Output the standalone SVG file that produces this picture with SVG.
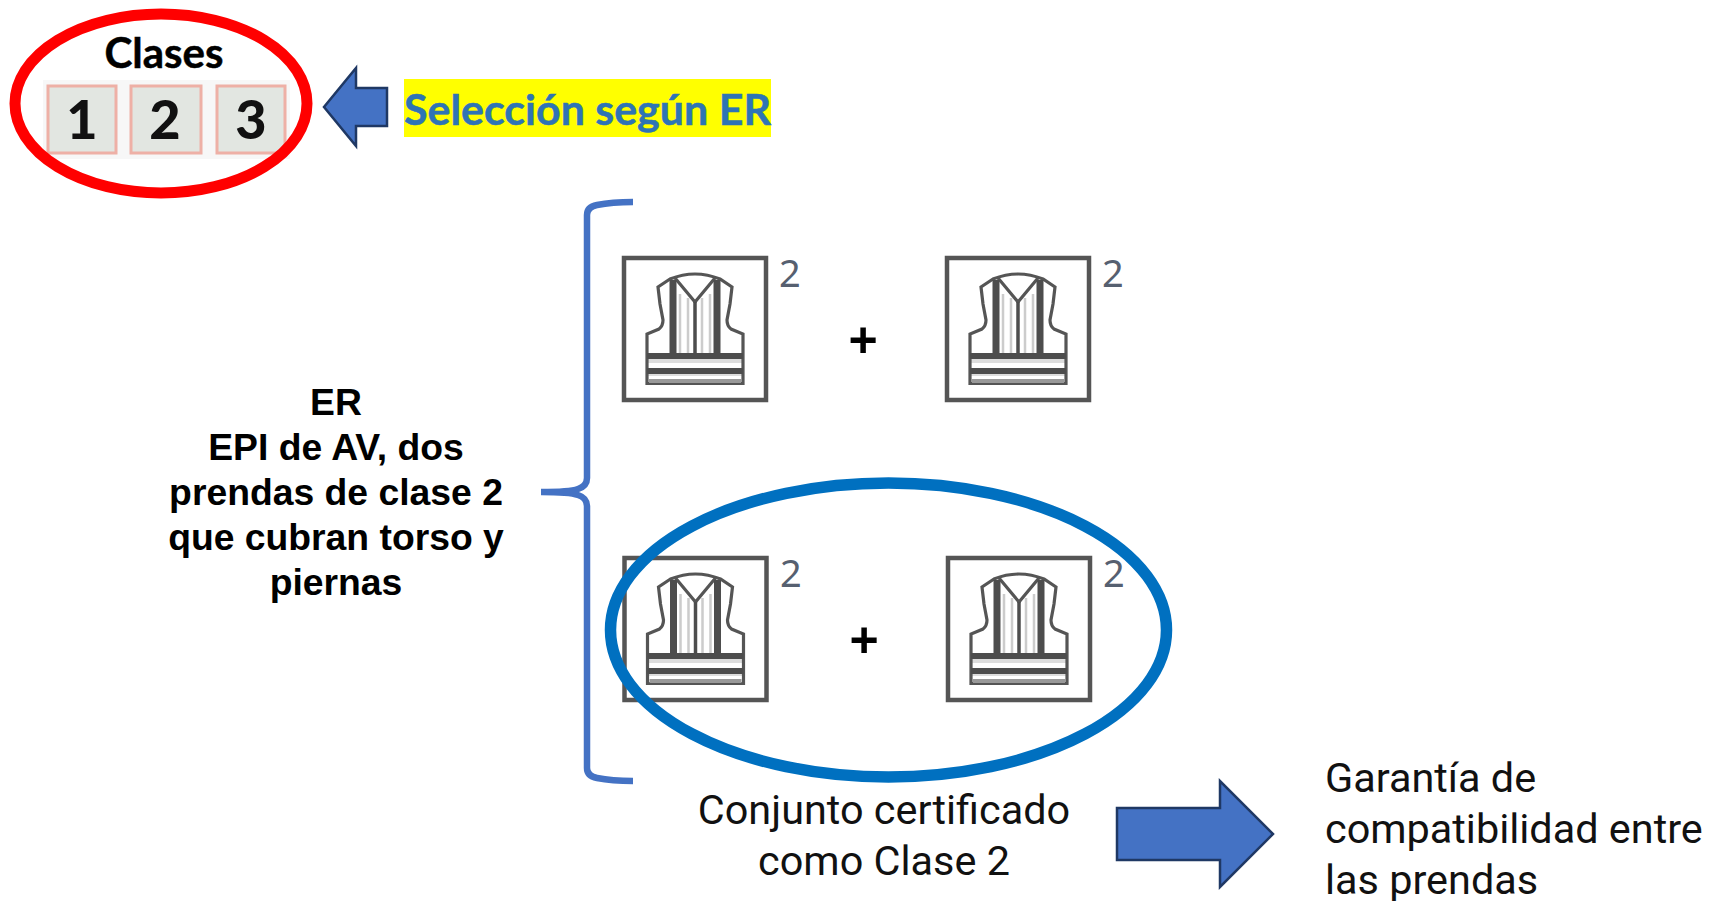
<svg xmlns="http://www.w3.org/2000/svg" width="1710" height="901" viewBox="0 0 1710 901">
<style>
.h{font-family:"Liberation Sans",Arial,sans-serif;font-weight:700;font-size:37.300px;fill:#000;text-anchor:middle}
.b{font-family:Roboto,"Noto Sans",sans-serif;font-size:41.400px;fill:#111}
.c{font-family:"Noto Sans","Open Sans",sans-serif;font-size:38px;font-weight:400;fill:#566070}
.arrow{fill:#4472C4;stroke:#1F3864;stroke-width:2.500}
.box{fill:#fff;stroke:#555;stroke-width:4.500}
.l{fill:none;stroke:#555;stroke-width:3.200}
.s{fill:none;stroke:#4d4d4d;stroke-width:7}
.t{fill:#e2e6e1;stroke:#eeb0a6;stroke-width:3}
.n{font-family:"Lato","Liberation Sans",sans-serif;font-weight:900;font-size:54px;fill:#111;text-anchor:middle}
</style>
<defs>
<g id="vest">
<rect class="box" x="2" y="2" width="142" height="142"/>
<path d="M58 38V98M66 42V98M80 42V98M88 38V98" fill="none" stroke="#ccc" stroke-width="2.500"/>
<rect x="26" y="103" width="94" height="4" fill="#ddd"/>
<rect x="26" y="118" width="94" height="2" fill="#ddd"/>
<path class="l" d="M48 23 L36 31 L38 48 L41 64 Q41 70 37 73 L25 78 V127.500 H121 V78 L109 73 Q105 70 105 64 L108 48 L110 31 L98 23 Q73 13 48 23Z"/>
<path class="l" d="M53 22 L73 46 L93 22"/>
<path class="s" d="M51 24V98M95 24V98"/>
<path d="M73 46V98" fill="none" stroke="#4d4d4d" stroke-width="3.500"/>
<rect x="25" y="97" width="96" height="6" fill="#4d4d4d"/>
<rect x="25" y="112" width="96" height="6" fill="#4d4d4d"/>
<rect x="27" y="123" width="92" height="4" fill="#999"/>
</g>
</defs>
<rect width="1710" height="901" fill="#fff"/>

<g id="clases">
<rect x="43" y="80" width="247" height="79" fill="#f7f7f7"/>
<rect class="t" x="48" y="86" width="68" height="67"/>
<rect class="t" x="131" y="86" width="70" height="67"/>
<rect class="t" x="217" y="86" width="68" height="67"/>
<text class="n" x="82" y="139">1</text>
<text class="n" x="165" y="139">2</text>
<text class="n" x="251" y="139">3</text>
<text x="164" y="68" font-family="Lato,'Liberation Sans',sans-serif" font-weight="700" font-size="42" text-anchor="middle" textLength="119" lengthAdjust="spacingAndGlyphs" stroke="#000" stroke-width="0.500">Clases</text>
<ellipse cx="161" cy="103.500" rx="146" ry="89.500" fill="none" stroke="#FF0000" stroke-width="11"/>
</g>

<g id="seleccion">
<rect x="404" y="79" width="367" height="58" fill="#FFFF00"/>
<text x="404" y="125" font-family="Lato,'Liberation Sans',sans-serif" font-weight="700" font-size="42" fill="#2E74B5" textLength="367" lengthAdjust="spacingAndGlyphs" stroke="#2E74B5" stroke-width="0.500">Selección según ER</text>
</g>

<g id="connectors">
<path class="arrow" d="M387 88V126H356V146L324 107L356 68V88Z"/>
<path d="M541 492Q570 492 578 489Q587 486 587 478V215Q587 207 597 205Q612 202 633 202M541 492Q570 492 578 495Q587 498 587 506V768Q587 776 597 778Q612 781 633 781" fill="none" stroke="#4472C4" stroke-width="6.500"/>
<path class="arrow" d="M1117 808H1220V781L1273 834L1220 887V860H1117Z"/>
</g>

<g id="er"><text class="h"><tspan x="336" y="415">ER</tspan><tspan x="336" y="460">EPI de AV, dos</tspan><tspan x="336" y="505">prendas de clase 2</tspan><tspan x="336" y="550">que cubran torso y</tspan><tspan x="336" y="595">piernas</tspan></text></g>

<g id="v1"><use href="#vest" x="622" y="256"/><text class="c" x="779" y="287">2</text></g>
<g id="plus1"><text x="863" y="357" font-family="'Liberation Sans',sans-serif" font-weight="700" font-size="50" text-anchor="middle">+</text></g>
<g id="v2"><use href="#vest" x="945" y="256"/><text class="c" x="1102" y="287">2</text></g>
<g id="v3"><use href="#vest" x="622.500" y="556"/><text class="c" x="780" y="587">2</text></g>
<g id="plus2"><text x="864" y="657" font-family="'Liberation Sans',sans-serif" font-weight="700" font-size="50" text-anchor="middle">+</text></g>
<g id="v4"><use href="#vest" x="946" y="556"/><text class="c" x="1103" y="587">2</text></g>
<g id="conjunto">
<ellipse cx="888.500" cy="630" rx="278" ry="147" fill="none" stroke="#0070C0" stroke-width="11.500"/>
<text class="b" text-anchor="middle"><tspan x="884" y="824">Conjunto certificado</tspan><tspan x="884" y="875">como Clase 2</tspan></text>
</g>
<g id="garantia"><text class="b"><tspan x="1325" y="792">Garantía de</tspan><tspan x="1325" y="843">compatibilidad entre</tspan><tspan x="1325" y="894">las prendas</tspan></text></g>
</svg>
